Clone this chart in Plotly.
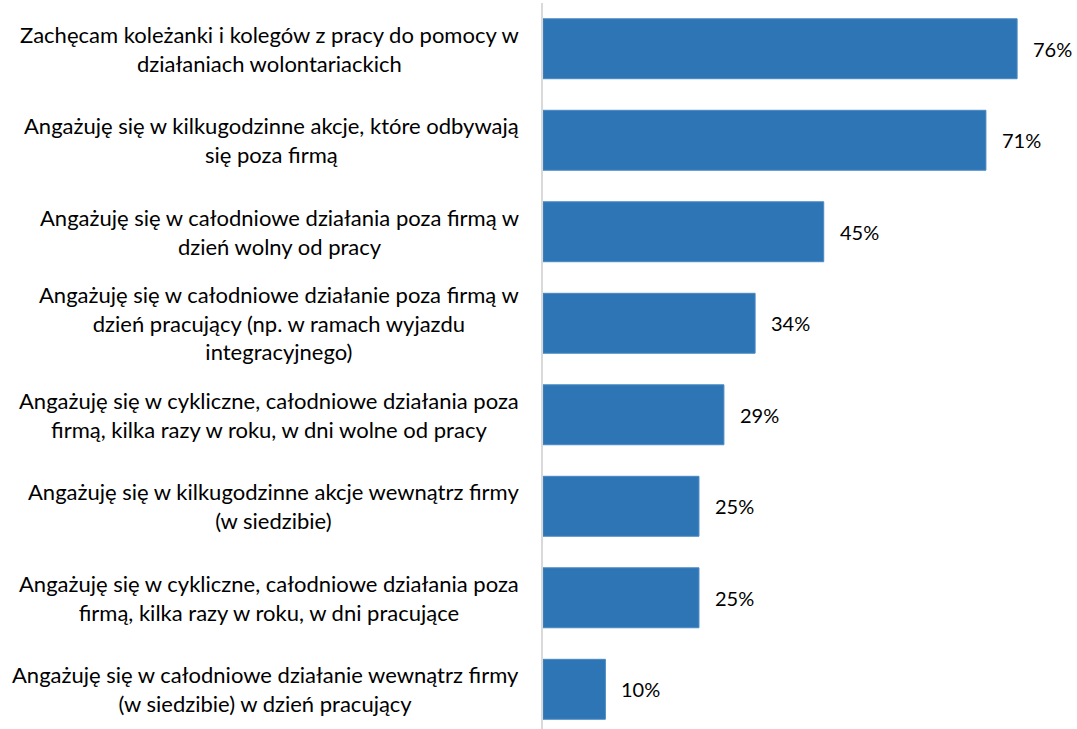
import plotly.graph_objects as go

# Survey statements (top to bottom) and share of respondents
categories = [
    "Zachęcam koleżanki i kolegów z pracy do pomocy w<br>działaniach wolontariackich",
    "Angażuję się w kilkugodzinne akcje, które odbywają<br>się poza firmą",
    "Angażuję się w całodniowe działania poza firmą w<br>dzień wolny od pracy",
    "Angażuję się w całodniowe działanie poza firmą w<br>dzień pracujący (np. w ramach wyjazdu<br>integracyjnego)",
    "Angażuję się w cykliczne, całodniowe działania poza<br>firmą, kilka razy w roku, w dni wolne od pracy",
    "Angażuję się w kilkugodzinne akcje wewnątrz firmy<br>(w siedzibie)",
    "Angażuję się w cykliczne, całodniowe działania poza<br>firmą, kilka razy w roku, w dni pracujące",
    "Angażuję się w całodniowe działanie wewnątrz firmy<br>(w siedzibie) w dzień pracujący",
]
values = [76, 71, 45, 34, 29, 25, 25, 10]
value_labels = [f"{v}%" for v in values]

FONT = "Lato"
positions = list(range(len(categories)))

fig = go.Figure(
    go.Bar(
        x=values,
        y=positions,
        orientation="h",
        width=0.655,
        marker=dict(color="#2E75B6", line=dict(color="#4A89C3", width=1)),
        hoverinfo="skip",
    )
)

annotations = []
for i, (cat, v, lab) in enumerate(zip(categories, values, value_labels)):
    annotations.append(dict(
        x=0, xref="paper", y=i, yref="y",
        text=cat, showarrow=False, xanchor="right", yanchor="middle",
        align="center", xshift=-22,
        font=dict(family=FONT, size=22, color="#000000"),
    ))
    annotations.append(dict(
        x=v, xref="x", y=i, yref="y",
        text=lab, showarrow=False, xanchor="left", yanchor="middle",
        xshift=14,
        font=dict(family=FONT, size=20, color="#000000"),
    ))

fig.update_layout(
    width=1077, height=729,
    margin=dict(l=543, r=0, t=3, b=0),
    paper_bgcolor="white", plot_bgcolor="white",
    showlegend=False,
    xaxis=dict(range=[0, 85.6], visible=False, fixedrange=True),
    yaxis=dict(range=[7.434, -0.5], showticklabels=False, showgrid=False,
               zeroline=False, ticks="", showline=True, linecolor="#D9D9D9",
               linewidth=1.5),
    annotations=annotations,
)

fig.write_html("out.html")
